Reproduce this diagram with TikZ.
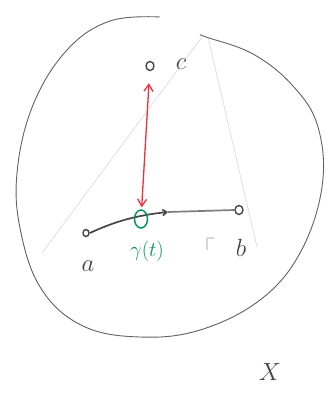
\documentclass[tikz,border=0pt]{standalone}
\usetikzlibrary{arrows.meta,shapes.geometric}
\definecolor{pencil}{RGB}{70,70,70}
\definecolor{faint}{RGB}{215,215,215}
\definecolor{redpen}{RGB}{235,50,60}
\definecolor{greenpen}{RGB}{0,150,85}
\tikzset{
  pt/.style={draw=pencil, line width=1.4pt, ellipse, inner sep=0pt, minimum width=8pt, minimum height=9pt},
  lbl/.style={text=pencil, font=\fontsize{24}{24}\selectfont},
  faintline/.style={draw=faint, line width=0.6pt},
}
\begin{document}
\begin{tikzpicture}[x=1pt,y=-1pt]
\useasboundingbox (0,0) rectangle (334,394);
\fill[white] (0,0) rectangle (334,394);
% faint erased lines
\draw[faintline] (42,253) -- (202,37);
\draw[faintline] (208,37) -- (257,247);
\draw[faintline, line width=1.2pt] (207,238) -- (207,250) (207,238) -- (214,238);
% blob outline
\draw[pencil!85, line width=0.9pt] plot[smooth, tension=0.65] coordinates {
 (160,17) (110,21) (67,50) (33,105) (17,173) (21,233) (42,290) (83,326) (140,337)
 (200,330) (260,300) (300,253) (322,187) (318,127) (293,86) (253,54) (206,37) (201,35)};
% points
\node[pt] (c) at (150,66) {};
\node[lbl] (cl) at (181,64) {$c$};
\node[pt, minimum width=6pt, minimum height=7pt] (a) at (86,233) {};
\node[lbl] (al) at (88,266) {$a$};
\node[pt] (b) at (239,210) {};
\node[lbl] (bl) at (241,248) {$b$};
% curve gamma
\draw[pencil, line width=1.7pt, -{Straight Barb[length=4pt,width=6pt]}] (a.east) .. controls (110,224) and (130,216) .. (168,212);
\draw[pencil!70, line width=1.7pt] (168,212) -- (b.west);
\node[draw=greenpen, line width=1.5pt, ellipse, minimum width=13pt, minimum height=18pt, inner sep=0pt] (g) at (141,219) {};
\node[text=greenpen, font=\fontsize{22}{22}\selectfont] (gl) at (147,251) {$\gamma(t)$};
% red double arrow
\draw[redpen, line width=1.3pt, {Straight Barb[length=7pt,width=9pt]}-{Straight Barb[length=7pt,width=9pt]}, shorten <=12pt, shorten >=2pt] (c) -- (g);
% space label
\node[text=pencil, font=\fontsize{36}{36}\selectfont] (X) at (270,372) {$X$};
\end{tikzpicture}
\end{document}
